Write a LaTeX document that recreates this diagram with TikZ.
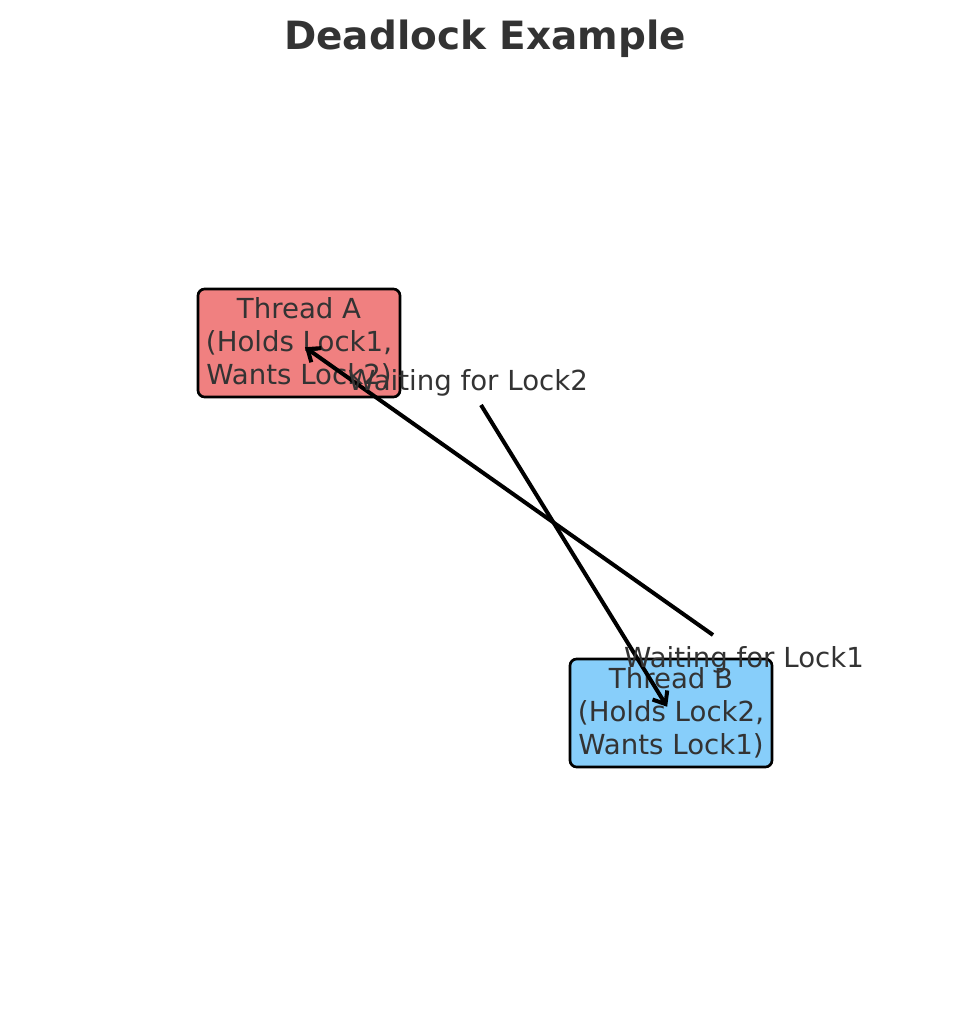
\documentclass[tikz,border=0pt]{standalone}
\usepackage{fontspec}
\setmainfont{DejaVu Sans}
\usepackage{xcolor}
\usetikzlibrary{arrows.meta,positioning}
\definecolor{txtgray}{HTML}{333333}
\definecolor{lockred}{HTML}{F08080}
\definecolor{lockblue}{HTML}{87CEFA}

\begin{document}
\begin{tikzpicture}[
    x=0.75pt,y=-0.75pt,
    font=\fontsize{20.7pt}{24.75pt}\selectfont,
    thread/.style={draw=black,line width=2pt,rounded corners=5pt,minimum width=151.5pt,minimum height=81pt,align=center,text=txtgray},
    lbl/.style={text=txtgray,inner sep=0pt},
    arr/.style={-{Straight Barb[length=8pt,width=13pt,line width=3pt]},line width=3pt,shorten >=5.5pt}
  ]
    \useasboundingbox (0,0) rectangle (969,1010);
    \node[text=txtgray,font=\fontsize{29.2pt}{34pt}\selectfont\bfseries] (title) at (485,39) {Deadlock Example};
    \node[thread,fill=lockred] (threadA) at (299,343) {Thread A\\(Holds Lock1,\\Wants Lock2)};
    \node[thread,fill=lockblue] (threadB) at (671,713) {Thread B\\(Holds Lock2,\\Wants Lock1)};
    \coordinate (fromB) at (713,635);
    \coordinate (fromA) at (481,405);
    \draw[arr] (fromB) -- (threadA.center);
    \draw[arr] (fromA) -- (threadB.center);
    \node[lbl] (waitA) at (468,383) {Waiting for Lock2};
    \node[lbl] (waitB) at (744,660) {Waiting for Lock1};
\end{tikzpicture}
\end{document}
